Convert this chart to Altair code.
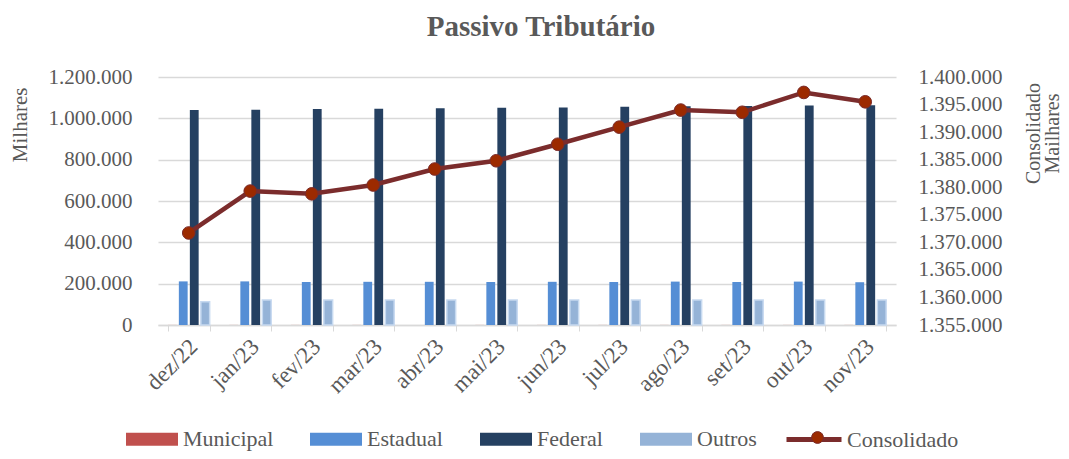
import altair as alt
import pandas as pd

meses = ["dez/22", "jan/23", "fev/23", "mar/23", "abr/23", "mai/23",
         "jun/23", "jul/23", "ago/23", "set/23", "out/23", "nov/23"]
series = ["Municipal", "Estadual", "Federal", "Outros"]
cores = ["#C0504D", "#558ED5", "#254061", "#95B3D7"]

municipal = [300, 300, 300, 300, 300, 300, 300, 300, 300, 300, 300, 300]
estadual = [211000, 211000, 208000, 209000, 209000, 208000, 209000, 208000, 210000, 208000, 210000, 207000]
federal = [1040000, 1042000, 1045000, 1046000, 1049000, 1051000, 1053000, 1056000, 1059000, 1060000, 1062000, 1063000]
outros = [113000, 121000, 121000, 121000, 121000, 121000, 121000, 121000, 121000, 121000, 121000, 121000]
consolidado = [1371700, 1379300, 1378800, 1380400, 1383300, 1384800, 1387800, 1390900, 1394000, 1393600, 1397200, 1395500]

ticks_esq = [0, 200000, 400000, 600000, 800000, 1000000, 1200000]
ticks_dir = [1355000, 1360000, 1365000, 1370000, 1375000, 1380000, 1385000, 1390000, 1395000, 1400000]

rows = []
for nome, vals in zip(series, [municipal, estadual, federal, outros]):
    for m, v in zip(meses, vals):
        rows.append({"mes": m, "serie": nome, "valor": v})
bars_df = pd.DataFrame(rows)
line_df = pd.DataFrame({"mes": meses, "consolidado": consolidado})

FONT = "Liberation Serif"
GRAY = "#595959"
fmt = "replace(replace(format(datum.value, ','), ',', '.'), ',', '.')"

xenc = alt.X("mes:N", sort=meses, title=None,
             scale=alt.Scale(paddingInner=0.32, paddingOuter=0.16),
             axis=alt.Axis(labelAngle=315, labelFont=FONT, labelFontSize=23, labelColor=GRAY,
                           domainColor="#D9D9D9", domainWidth=1.5, tickColor="#D9D9D9",
                           tickBand="extent", tickSize=6, labelPadding=4, labelOffset=-3, grid=False))

bars = alt.Chart(bars_df).mark_bar().encode(
    x=xenc,
    xOffset=alt.XOffset("serie:N", sort=series, scale=alt.Scale(paddingInner=0.2)),
    y=alt.Y("valor:Q", scale=alt.Scale(domain=[0, 1200000], nice=False),
            axis=alt.Axis(values=ticks_esq, labelExpr=fmt, title="Milhares",
                          titleFont=FONT, titleFontSize=21, titleColor=GRAY, titleFontWeight="normal",
                          titleY=10, titleAnchor="end", titlePadding=18,
                          labelFont=FONT, labelFontSize=21, labelColor=GRAY, labelPadding=26,
                          grid=True, gridColor="#D9D9D9", gridWidth=1.5, domain=False, ticks=False)),
    color=alt.Color("serie:N", sort=series, scale=alt.Scale(domain=series, range=cores),
                    legend=alt.Legend(orient="none", legendX=-18.5, legendY=349.5, direction="horizontal",
                                      title=None, symbolType="M-2.08,-0.52H2.08V0.52H-2.08Z", symbolSize=625,
                                      symbolStrokeWidth=0, labelFont=FONT, labelFontSize=22,
                                      labelColor=GRAY, labelOffset=18.5, columnPadding=36, padding=0)),
    stroke=alt.condition("datum.serie == 'Outros'", alt.value("#C6D9F0"), alt.value(None)),
    strokeWidth=alt.value(1.5),
)

eixo_dir = alt.Axis(orient="right", values=ticks_dir, labelExpr=fmt, labelOverlap=False,
                    title=["Consolidado", "Mailhares"], titleAngle=270,
                    titleFont=FONT, titleFontSize=20, titleColor=GRAY, titleFontWeight="normal",
                    titleAlign="center", titleBaseline="top", titleX=127, titleY=56,
                    titleLineHeight=19,
                    labelFont=FONT, labelFontSize=21, labelColor=GRAY, labelPadding=22,
                    grid=False, domain=False, ticks=False)
escala_dir = alt.Scale(domain=[1355000, 1400000], nice=False, zero=False)

line = alt.Chart(line_df).transform_calculate(nome="'Consolidado'").mark_line(strokeWidth=4.5).encode(
    x=alt.X("mes:N", sort=meses),
    y=alt.Y("consolidado:Q", scale=escala_dir, axis=eixo_dir),
    stroke=alt.Stroke("nome:N", scale=alt.Scale(domain=["Consolidado"], range=["#7B2C2C"]),
                      legend=alt.Legend(orient="none", legendX=641, legendY=347.5, title=None,
                                        symbolType="M-2.2,0H2.2", symbolSize=625, symbolStrokeWidth=5,
                                        labelFont=FONT, labelFontSize=22, labelColor=GRAY,
                                        labelOffset=18, padding=0)),
)

points = alt.Chart(line_df).transform_calculate(marca="'Consolidado.'").mark_circle(
    size=160, opacity=1, stroke="#7B2C2C", strokeWidth=1).encode(
    x=alt.X("mes:N", sort=meses),
    y=alt.Y("consolidado:Q", scale=escala_dir, axis=eixo_dir),
    fill=alt.Fill("marca:N", scale=alt.Scale(domain=["Consolidado."], range=["#9C2A00"]),
                  legend=alt.Legend(orient="none", legendX=653, legendY=354, title=None,
                                    symbolType="circle", symbolSize=140, symbolStrokeColor="#7B2C2C",
                                    symbolStrokeWidth=1, labelExpr="''", padding=0)),
)

chart = alt.layer(bars, alt.layer(line, points)).resolve_scale(
    y="independent", color="independent", stroke="independent", fill="independent"
).properties(
    width=738, height=248,
    padding={"left": 150, "top": 69, "right": 165, "bottom": 126},
    autosize=alt.AutoSizeParams(type="none"),
    title=alt.Title("Passivo Tributário", font=FONT, fontSize=29, fontWeight="bold",
                    color=GRAY, dx=14, offset=24),
).configure_view(stroke=None).configure_axis(labelOverlap=False)

chart.save("out.html", embed_options={"renderer": "svg", "actions": False})
